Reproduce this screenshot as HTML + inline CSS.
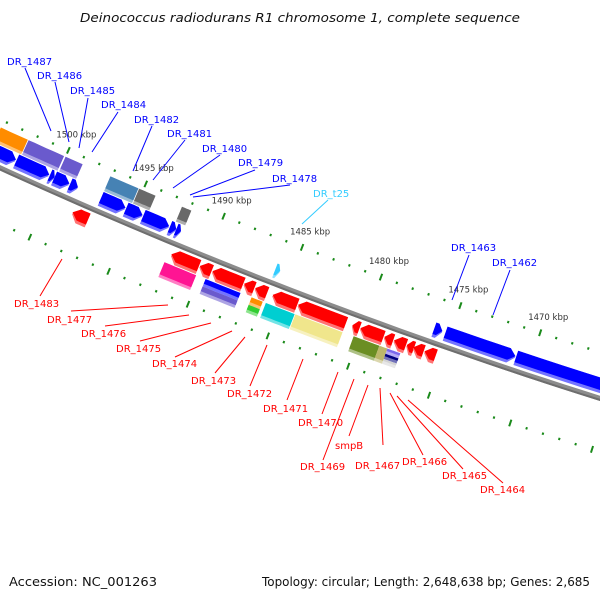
<!DOCTYPE html>
<html><head><meta charset="utf-8">
<style>
html,body{margin:0;padding:0;background:#fff;}
svg{display:block;}
text{font-family:"DejaVu Sans","Liberation Sans",sans-serif;}
</style></head>
<body>
<svg id="map" width="600" height="600" viewBox="0 0 600 600" xmlns="http://www.w3.org/2000/svg">
<rect x="0" y="0" width="600" height="600" fill="#fff"/>
<text x="300" y="22" text-anchor="middle" font-size="12.5" font-style="italic" fill="#111" textLength="440" lengthAdjust="spacingAndGlyphs">Deinococcus radiodurans R1 chromosome 1, complete sequence</text>
<g id="ticks"></g>
<g id="backbone"></g>
<g id="genes"></g>
<g id="labels" font-size="10">
 <g stroke="#0000ff" stroke-width="1">
  <line x1="25" y1="68" x2="51" y2="131"/><line x1="55" y1="82" x2="69" y2="142"/>
  <line x1="88" y1="98" x2="79" y2="148"/><line x1="118" y1="112" x2="92" y2="152"/>
  <line x1="152" y1="126" x2="133" y2="171"/><line x1="185" y1="140" x2="153" y2="180"/>
  <line x1="220" y1="155" x2="173" y2="188"/><line x1="255" y1="170" x2="190" y2="195"/>
  <line x1="290" y1="185" x2="193" y2="197"/>
  <line x1="469" y1="255" x2="452" y2="300"/><line x1="510" y1="270" x2="493" y2="315"/>
 </g>
 <line x1="328" y1="200" x2="302" y2="224" stroke="#33ccff"/>
 <g fill="#0000ff">
  <text x="7" y="65">DR_1487</text>
  <text x="37" y="79">DR_1486</text>
  <text x="70" y="94">DR_1485</text>
  <text x="101" y="108">DR_1484</text>
  <text x="134" y="123">DR_1482</text>
  <text x="167" y="137">DR_1481</text>
  <text x="202" y="152">DR_1480</text>
  <text x="238" y="166">DR_1479</text>
  <text x="272" y="182">DR_1478</text>
  <text x="451" y="251">DR_1463</text>
  <text x="492" y="266">DR_1462</text>
 </g>
 <text x="313" y="197" fill="#33ccff">DR_t25</text>
 <g stroke="#ff0000" stroke-width="1">
  <line x1="40" y1="296" x2="62" y2="259"/><line x1="71" y1="311" x2="168" y2="305"/>
  <line x1="105" y1="326" x2="189" y2="315"/><line x1="140" y1="341" x2="211" y2="323"/>
  <line x1="175" y1="357" x2="232" y2="331"/><line x1="215" y1="373" x2="245" y2="337"/>
  <line x1="250" y1="386" x2="267" y2="345"/><line x1="287" y1="400" x2="303" y2="359"/>
  <line x1="322" y1="414" x2="338" y2="372"/><line x1="349" y1="436" x2="368" y2="385"/>
  <line x1="323" y1="460" x2="354" y2="379"/><line x1="383" y1="445" x2="380" y2="388"/>
  <line x1="423" y1="455" x2="390" y2="393"/><line x1="463" y1="469" x2="397" y2="396"/>
  <line x1="503" y1="483" x2="408" y2="400"/>
 </g>
 <g fill="#ff0000">
  <text x="14" y="307">DR_1483</text>
  <text x="47" y="323">DR_1477</text>
  <text x="81" y="337">DR_1476</text>
  <text x="116" y="352">DR_1475</text>
  <text x="152" y="367">DR_1474</text>
  <text x="191" y="384">DR_1473</text>
  <text x="227" y="397">DR_1472</text>
  <text x="263" y="412">DR_1471</text>
  <text x="298" y="426">DR_1470</text>
  <text x="335" y="449">smpB</text>
  <text x="300" y="470">DR_1469</text>
  <text x="355" y="469">DR_1467</text>
  <text x="402" y="465">DR_1466</text>
  <text x="442" y="479">DR_1465</text>
  <text x="480" y="493">DR_1464</text>
 </g>
</g>
<text x="9" y="586" font-size="12" fill="#111" textLength="148" lengthAdjust="spacingAndGlyphs">Accession: NC_001263</text>
<text x="590" y="586" text-anchor="end" font-size="12" fill="#111" textLength="328" lengthAdjust="spacingAndGlyphs">Topology: circular; Length: 2,648,638 bp; Genes: 2,685</text>
</svg>
<script>
// ---- data (kbp positions) ----
var tickKbp = [1462,1463,1464,1465,1466,1467,1468,1469,1470,1471,1472,1473,1474,1475,1476,1477,1478,1479,1480,1481,1482,1483,1484,1485,1486,1487,1488,1489,1490,1491,1492,1493,1494,1495,1496,1497,1498,1499,1500,1501,1502,1503,1504,1505];
var majorLabels = [1500,1495,1490,1485,1480,1475,1470];
var fwdStart = [1504.6,1502.55,1500.4,1500.1,1499.1,1497.1,1495.5,1494.4,1492.7,1492.3,1476.0,1475.3,1470.9];
var fwdEnd   = [1502.6,1500.45,1500.1,1499.15,1498.6,1495.55,1494.45,1492.75,1492.3,1492.0,1475.5,1470.95,1463.5];
var trnaStart = [1486.0];
var trnaEnd   = [1485.7];
var fboxStart = [1504.2,1502.4,1500.0,1497.1,1495.25,1492.5];
var fboxEnd   = [1502.45,1500.1,1498.9,1495.3,1494.2,1491.9];
var fboxColor = ['#ff8c00','#6a5acd','#6a5acd','#4682b4','#696969','#696969'];
var revStart = [1498.3,1492.0,1490.2,1489.4,1487.4,1486.7,1485.6,1484.0,1480.6,1480.1,1478.6,1478.0,1477.2,1476.8,1476.1];
var revEnd   = [1497.3,1490.25,1489.45,1487.45,1486.75,1485.95,1484.05,1481.0,1480.15,1478.65,1478.05,1477.25,1476.75,1476.15,1475.4];
var rboxStart = [1492.2,1489.6,1489.6,1486.7,1486.7,1485.8,1483.95,1480.3,1478.7,1478.2,1478.2,1478.2];
var rboxEnd   = [1490.2,1487.4,1487.4,1486.0,1486.0,1484.0,1481.0,1478.7,1478.2,1477.4,1477.4,1477.4];
var rboxColor = ['#ff1493','#0000ff','#6a5acd','#ff8c00','#32cd32','#00ced1','#f0e68c','#6b8e23','#bdb76b','#7b68ee','#000080','#d3d3d3'];
var rboxLayer = [0,1,2,1,2,0,0,0,0,3,4,5];

// ---- geometry ----
var CX=2176, CY=-4599, R0=5240;
function ang(k){ return (113.93 - (1500-k)*0.186)*Math.PI/180; }
function P(k,v){ var a=ang(k), r=R0+v; return [CX+r*Math.cos(a), CY+r*Math.sin(a)]; }
function fmt(p){ return p[0].toFixed(1)+','+p[1].toFixed(1); }
var NS='http://www.w3.org/2000/svg';
function lighten(c,f){
  var n=parseInt(c.slice(1),16),r=n>>16,g=(n>>8)&255,b=n&255;
  r=Math.round(r+(255-r)*f);g=Math.round(g+(255-g)*f);b=Math.round(b+(255-b)*f);
  return 'rgb('+r+','+g+','+b+')';
}
function arcPts(k0,k1,v,steps){ var a=[]; for(var i=0;i<=steps;i++){ a.push(P(k0+(k1-k0)*i/steps,v)); } return a; }
function poly(parent,pts,fill,name){
  var e=document.createElementNS(NS,'polygon');
  e.setAttribute('points',pts.map(fmt).join(' '));
  e.setAttribute('fill',fill);
  
  
  parent.appendChild(e); return e;
}
function boxPts(s,e,v0,v1){ var top=arcPts(s,e,v0,6), bot=arcPts(e,s,v1,6); return top.concat(bot); }
function arrowPts(s,e,v0,v1,dir){
  var h=Math.min(0.4,(s-e)*0.6), vm=(v0+v1)/2;
  if(dir>0){ return arcPts(s,e+h,v0,5).concat([P(e,vm)]).concat(arcPts(e+h,s,v1,5)); }
  return [P(s,vm)].concat(arcPts(s-h,e,v0,5)).concat(arcPts(e,s-h,v1,5));
}
function shaded(parent,ptsFn,color,v0,v1,name){
  var g=document.createElementNS(NS,'g');
  
  
  parent.appendChild(g);
  poly(g,ptsFn(v0,v1),lighten(color,0.45),name+'-shade');
  poly(g,ptsFn(v0,v1-3),color,name+'-body');
}

var tg=document.getElementById('ticks');
tickKbp.forEach(function(k){
  var major = (k%5===0);
  [[-44,'upper'],[51,'lower']].forEach(function(row){
    var c=row[0], hl= major?3.5:1.2;
    var a=P(k,c-hl), b=P(k,c+hl);
    var l=document.createElementNS(NS,'line');
    l.setAttribute('x1',a[0]);l.setAttribute('y1',a[1]);l.setAttribute('x2',b[0]);l.setAttribute('y2',b[1]);
    l.setAttribute('stroke','#1a8a1a');l.setAttribute('stroke-width',2);
    
    
    tg.appendChild(l);
  });
});
majorLabels.forEach(function(k){
  var p=P(k,-44);
  var t=document.createElementNS(NS,'text');
  t.setAttribute('x',p[0]-12);t.setAttribute('y',p[1]-13);
  t.setAttribute('font-size','8.5');t.setAttribute('fill','#333');
  t.textContent=k+' kbp';
  
  
  tg.appendChild(t);
});

var bg=document.getElementById('backbone');
var bl=document.createElementNS(NS,'polyline');
bl.setAttribute('points',arcPts(1506,1461,0,40).map(fmt).join(' '));
bl.setAttribute('fill','none');bl.setAttribute('stroke','#8c8c8c');bl.setAttribute('stroke-width','5');


bg.appendChild(bl);
var bl2=document.createElementNS(NS,'polyline');
bl2.setAttribute('points',arcPts(1506,1461,1.5,40).map(fmt).join(' '));
bl2.setAttribute('fill','none');bl2.setAttribute('stroke','#6e6e6e');bl2.setAttribute('stroke-width','2');


bg.appendChild(bl2);

var gg=document.getElementById('genes');
fwdStart.forEach(function(s,i){
  var e=fwdEnd[i];
  shaded(gg,function(a,b){return arrowPts(s,e,a,b,1);},'#0000ff',-20,-5,'forward-gene-'+i);
});
trnaStart.forEach(function(s,i){
  var e=trnaEnd[i];
  shaded(gg,function(a,b){return arrowPts(s,e,a,b,1);},'#33ccff',-20,-5,'trna-'+i);
});
fboxStart.forEach(function(s,i){
  var e=fboxEnd[i];
  shaded(gg,function(a,b){return boxPts(s,e,a,b);},fboxColor[i],-37,-21,'forward-block-'+i);
});
revStart.forEach(function(s,i){
  var e=revEnd[i];
  shaded(gg,function(a,b){return arrowPts(s,e,a,b,-1);},'#ff0000',5,20,'reverse-gene-'+i);
});
var layerV=[[21,37],[21,29],[29,37],[21,26.5],[26.5,32],[32,37]];
rboxStart.forEach(function(s,i){
  var e=rboxEnd[i], lv=layerV[rboxLayer[i]];
  shaded(gg,function(a,b){return boxPts(s,e,a,b);},rboxColor[i],lv[0],lv[1],'reverse-block-'+i);
});
</script>
</body></html>
